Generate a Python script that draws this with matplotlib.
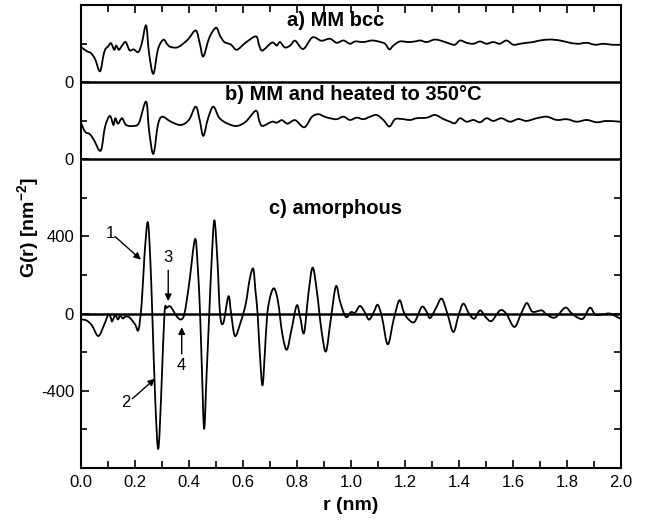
import matplotlib
matplotlib.use("Agg")
import matplotlib.pyplot as plt
from matplotlib.path import Path
from matplotlib.patches import PathPatch
import numpy as np

plt.rcParams['font.family'] = ['Liberation Sans', 'DejaVu Sans']
plt.rcParams['mathtext.fontset'] = 'custom'
plt.rcParams['mathtext.bf'] = 'Liberation Sans:bold'

# c) amorphous, G(r) in nm^-2
r_c = [0.000, 0.020, 0.040, 0.064, 0.085, 0.101, 0.110, 0.115, 0.127, 0.137,
       0.145, 0.155, 0.165, 0.180, 0.200, 0.213, 0.225, 0.235, 0.247, 0.256,
       0.264, 0.275, 0.286, 0.297, 0.309, 0.318, 0.330, 0.342, 0.355, 0.370,
       0.383, 0.400, 0.422, 0.432, 0.441, 0.448, 0.456, 0.465, 0.475, 0.484,
       0.494, 0.505, 0.515, 0.527, 0.546, 0.556, 0.570, 0.590, 0.610, 0.625,
       0.638, 0.646, 0.654, 0.662, 0.672, 0.681, 0.690, 0.703, 0.716, 0.730,
       0.745, 0.762, 0.780, 0.799, 0.812, 0.826, 0.842, 0.858, 0.875, 0.890,
       0.907, 0.925, 0.944, 0.960, 0.981, 1.000, 1.015, 1.033, 1.050, 1.067,
       1.085, 1.099, 1.115, 1.136, 1.158, 1.179, 1.195, 1.210, 1.235, 1.262,
       1.280, 1.293, 1.315, 1.336, 1.357, 1.379, 1.398, 1.416, 1.437, 1.457,
       1.478, 1.500, 1.521, 1.552, 1.575, 1.605, 1.630, 1.651, 1.672, 1.706,
       1.725, 1.756, 1.793, 1.815, 1.839, 1.860, 1.885, 1.905, 1.935, 1.960,
       1.996]
g_c = [-30, -35, -60, -116, -60, -5, -20, -40, -8, -30,
       -10, -25, -15, -20, -55, -83, 60, 300, 475, 300,
       0, -450, -701, -420, 0, 30, 38, 15, -15, -30,
       0, 150, 386, 250, 0, -300, -597, -320, 0, 280,
       484, 280, 0, -49, 90, 0, -116, -50, 50, 180,
       233, 120, 0, -200, -372, -200, 0, 100, 130, 60,
       -100, -187, -80, 43, -20, -100, 100, 239, 100, -80,
       -196, -30, 142, 60, -17, 8, 5, 40, 10, -31,
       10, 46, -20, -159, -30, 69, 10, -25, -43, 35,
       10, -23, 30, 78, 0, -95, -10, 52, 0, -26,
       17, -20, -38, 17, 0, -69, 0, 55, 10, 17,
       -5, -20, 31, 5, -20, -25, 31, -5, -3, 0,
       -25]

# a) MM bcc (relative to its own zero line)
r_a = [0.000, 0.022, 0.037, 0.052, 0.070, 0.082, 0.089, 0.100, 0.111, 0.123,
       0.130, 0.140, 0.150, 0.165, 0.180, 0.195, 0.212, 0.225, 0.241, 0.252,
       0.268, 0.285, 0.305, 0.320, 0.333, 0.360, 0.395, 0.425, 0.440, 0.453,
       0.475, 0.500, 0.515, 0.531, 0.555, 0.577, 0.610, 0.648, 0.660, 0.672,
       0.707, 0.725, 0.737, 0.755, 0.775, 0.793, 0.823, 0.857, 0.890, 0.922,
       0.947, 0.972, 0.996, 1.015, 1.046, 1.077, 1.101, 1.126, 1.142, 1.157,
       1.181, 1.212, 1.237, 1.256, 1.281, 1.311, 1.342, 1.367, 1.385, 1.404,
       1.428, 1.453, 1.478, 1.502, 1.527, 1.551, 1.576, 1.601, 1.626, 1.650,
       1.675, 1.700, 1.737, 1.774, 1.811, 1.842, 1.873, 1.904, 1.935, 1.966,
       1.996]
g_a = [182, 160, 150, 120, 56, 130, 168, 185, 202, 168,
       190, 168, 185, 208, 165, 170, 156, 200, 294, 150,
       43, 170, 220, 195, 182, 182, 220, 268, 200, 133,
       230, 282, 240, 208, 195, 168, 205, 237, 190, 164,
       205, 190, 208, 180, 190, 215, 172, 232, 215, 225,
       204, 216, 199, 211, 208, 216, 211, 199, 170, 190,
       211, 208, 211, 216, 208, 221, 211, 199, 194, 216,
       204, 199, 211, 199, 208, 199, 216, 194, 199, 204,
       208, 216, 221, 216, 204, 199, 204, 194, 199, 194,
       194]

# b) MM and heated to 350 C (relative to its own zero line)
r_b = [0.000, 0.015, 0.033, 0.048, 0.073, 0.089, 0.107, 0.120, 0.127, 0.137,
       0.152, 0.167, 0.195, 0.215, 0.241, 0.252, 0.268, 0.285, 0.301, 0.333,
       0.370, 0.400, 0.425, 0.440, 0.453, 0.470, 0.490, 0.512, 0.543, 0.577,
       0.610, 0.648, 0.660, 0.672, 0.707, 0.725, 0.744, 0.765, 0.793, 0.827,
       0.855, 0.879, 0.900, 0.922, 0.947, 0.972, 0.996, 1.021, 1.046, 1.071,
       1.095, 1.120, 1.142, 1.163, 1.188, 1.219, 1.243, 1.281, 1.311, 1.342,
       1.367, 1.385, 1.404, 1.428, 1.453, 1.478, 1.502, 1.527, 1.557, 1.589,
       1.620, 1.650, 1.688, 1.725, 1.762, 1.799, 1.836, 1.873, 1.910, 1.947,
       1.996]
g_b = [190, 143, 130, 100, 45, 169, 225, 178, 213, 185,
       213, 178, 173, 190, 299, 150, 28, 180, 221, 195,
       178, 205, 273, 200, 121, 210, 273, 215, 185, 173,
       195, 252, 200, 173, 195, 190, 203, 185, 203, 166,
       220, 234, 222, 213, 208, 221, 204, 216, 208, 221,
       230, 204, 170, 208, 209, 204, 213, 216, 230, 209,
       195, 187, 213, 195, 204, 192, 213, 199, 213, 195,
       209, 199, 213, 221, 204, 208, 195, 204, 192, 199,
       195]

off_a = 1200
off_b = 800


def smooth_line(ax, x, y, lw=1.3):
    # draw the read points joined by Catmull-Rom style cubic Bezier segments
    x = np.asarray(x, float)
    y = np.asarray(y, float)
    pts = np.column_stack([x, y])
    n = len(pts)
    verts = [pts[0]]
    codes = [Path.MOVETO]
    for i in range(n - 1):
        p0 = pts[max(i - 1, 0)]
        p1 = pts[i]
        p2 = pts[i + 1]
        p3 = pts[min(i + 2, n - 1)]
        c1 = p1 + (p2 - p0) / 6.0
        c2 = p2 - (p3 - p1) / 6.0
        verts += [c1, c2, p2]
        codes += [Path.CURVE4] * 3
    patch = PathPatch(Path(verts, codes), fill=False, edgecolor='k', lw=lw,
                      capstyle='round', joinstyle='round')
    ax.add_patch(patch)


fig = plt.figure(figsize=(6.45, 5.2), dpi=100)
ax = fig.add_axes([0.1256, 0.1, 0.8372, 0.8904])

smooth_line(ax, r_c, g_c)
smooth_line(ax, r_a, np.array(g_a) + off_a)
smooth_line(ax, r_b, np.array(g_b) + off_b)

# zero lines of each panel
for y0 in [0, off_b, off_a]:
    ax.axhline(y0, color='k', lw=1.8)

ax.set_xlim(0, 2.0)
ax.set_ylim(-800, 1600)

ax.set_xticks(np.arange(0, 2.01, 0.2))
ax.set_xticks(np.arange(0, 2.01, 0.1), minor=True)
ax.set_xticklabels(["{:.1f}".format(v) for v in np.arange(0, 2.01, 0.2)])
ax.set_yticks([-400, 0, 400, off_b, off_a])
ax.set_yticklabels(['-400', '0', '400', '0', '0'])
ax.set_yticks([-600, -200, 200, 600, off_b + 200, off_a + 200], minor=True)
ax.tick_params(which='both', direction='in', labelsize=12, width=1.2,
               top=True, right=False)
ax.tick_params(which='major', length=6, pad=5)
ax.tick_params(which='minor', length=4)
ax.tick_params(axis='x', which='minor', length=5)
for sp in ax.spines.values():
    sp.set_linewidth(1.5)

# right side ticks only on the bottom panel
axr = ax.twinx()
axr.set_ylim(ax.get_ylim())
axr.set_yticks([-600, -400, -200, 0, 200, 400, 600])
axr.set_yticklabels([])
axr.tick_params(direction='in', length=5, width=1.2)
for sp in axr.spines.values():
    sp.set_visible(False)

ax.set_xlabel('r (nm)', fontsize=14, fontweight='bold', labelpad=5)
ax.set_ylabel(r'G(r) [nm$^{\mathbf{-2}}$]', fontsize=14, fontweight='bold', labelpad=0)
ax.yaxis.set_label_coords(-0.072, 0.52)

ax.text(0.944, 1520, 'a) MM bcc', fontsize=14.5, fontweight='bold', ha='center', va='center')
ax.text(1.01, 1134, 'b) MM and heated to 350°C', fontsize=14.5, fontweight='bold',
        ha='center', va='center')
ax.text(0.944, 547, 'c) amorphous', fontsize=14.5, fontweight='bold', ha='center', va='center')

# numbered arrows
arr = dict(arrowstyle='-|>', color='k', lw=1.0, mutation_scale=10, shrinkA=0, shrinkB=0)
ax.annotate('', xy=(0.222, 280), xytext=(0.126, 400), arrowprops=arr)
ax.text(0.107, 415, '1', fontsize=12, ha='center', va='center')
ax.annotate('', xy=(0.274, -337), xytext=(0.19, -441), arrowprops=arr)
ax.text(0.165, -459, '2', fontsize=12, ha='center', va='center')
ax.annotate('', xy=(0.323, 65), xytext=(0.323, 225), arrowprops=arr)
ax.text(0.323, 290, '3', fontsize=12, ha='center', va='center')
ax.annotate('', xy=(0.373, -70), xytext=(0.373, -208), arrowprops=arr)
ax.text(0.373, -270, '4', fontsize=12, ha='center', va='center')

fig.savefig('out.png', dpi=100)
